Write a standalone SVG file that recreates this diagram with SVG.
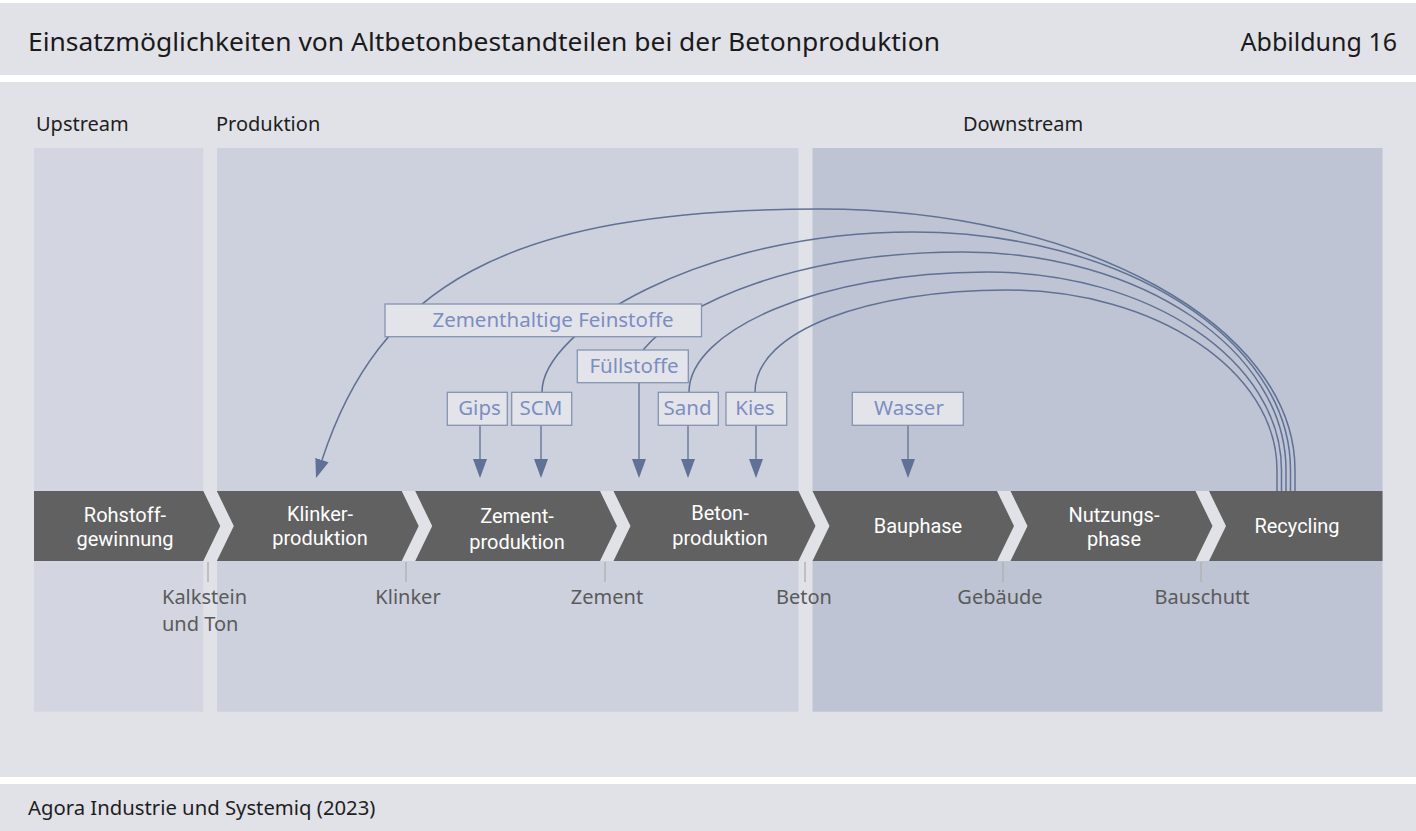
<svg xmlns="http://www.w3.org/2000/svg" width="1416" height="831" viewBox="0 0 1416 831">
<style>
text{font-family:"Noto Sans","Liberation Sans",sans-serif;}
.h{font-size:20px;fill:#1e1e1e;}
.seg{font-family:Roboto,"Noto Sans",sans-serif;font-size:20px;fill:#ffffff;text-anchor:middle;}
.out{font-size:20px;fill:#5a5a5a;text-anchor:middle;}
.box{fill:#e3e4ea;stroke:#8593b2;stroke-width:1.3;}
.bt{font-size:20.5px;fill:#7b8ec2;text-anchor:middle;}
.ln{fill:none;stroke:#5f7194;stroke-width:1.5;}
.arr{fill:none;stroke:#6b7c9c;stroke-width:1.5;marker-end:url(#ah);}
.sep{fill:#e1e2e7;}
.tick{stroke:#b3b3b3;stroke-width:1.5;}
</style>
<defs>
<marker id="ah" markerUnits="userSpaceOnUse" markerWidth="20" markerHeight="14" refX="0" refY="7" orient="auto">
<path d="M0,0 L19,7 L0,14 z" fill="#5f7194"/>
</marker>
</defs>
<rect x="0" y="0" width="1416" height="831" fill="#ffffff"/>
<rect x="0" y="3" width="1416" height="72" fill="#e1e2e7"/>
<rect x="0" y="82" width="1416" height="695" fill="#e1e2e7"/>
<rect x="0" y="784" width="1416" height="47" fill="#e1e2e7"/>
<text x="28" y="51" textLength="912" lengthAdjust="spacingAndGlyphs" style="font-size:25.5px;fill:#1a1a1a">Einsatzmöglichkeiten von Altbetonbestandteilen bei der Betonproduktion</text>
<text x="1397" y="51" style="font-size:25px;fill:#1a1a1a;text-anchor:end">Abbildung 16</text>
<text x="28" y="815" style="font-size:20.3px;fill:#1e1e1e">Agora Industrie und Systemiq (2023)</text>

<g id="panels">
<rect x="34" y="148" width="169.3" height="563.7" fill="#d3d6e1"/>
<rect x="217" y="148" width="581.5" height="563.7" fill="#cdd1dd"/>
<rect x="812.5" y="148" width="570" height="563.7" fill="#bec4d4"/>
<text class="h" x="36" y="131">Upstream</text>
<text class="h" x="216" y="131">Produktion</text>
<text class="h" x="963" y="131">Downstream</text>
</g>

<g id="band">
<rect x="34" y="491" width="1348.5" height="70" fill="#616161"/>
<polygon class="sep" points="203.3,491 216.8,491 233.8,526 216.8,561 203.3,561 220.3,526"/>
<polygon class="sep" points="401.7,491 415.2,491 432.2,526 415.2,561 401.7,561 418.7,526"/>
<polygon class="sep" points="600,491 613.5,491 630.5,526 613.5,561 600,561 617,526"/>
<polygon class="sep" points="798.5,491 812.5,491 829.5,526 812.5,561 798.5,561 815.5,526"/>
<polygon class="sep" points="997,491 1010.5,491 1027.5,526 1010.5,561 997,561 1014,526"/>
<polygon class="sep" points="1195.5,491 1209,491 1226,526 1209,561 1195.5,561 1212.5,526"/>
</g>

<g id="rohstoffgewinnung"><text class="seg" x="125" y="522">Rohstoff-</text><text class="seg" x="125" y="546">gewinnung</text></g>
<g id="klinkerproduktion"><text class="seg" x="320" y="521">Klinker-</text><text class="seg" x="320" y="545">produktion</text></g>
<g id="zementproduktion"><text class="seg" x="517" y="523">Zement-</text><text class="seg" x="517" y="549">produktion</text></g>
<g id="betonproduktion"><text class="seg" x="720" y="520">Beton-</text><text class="seg" x="720" y="545">produktion</text></g>
<g id="bauphase"><text class="seg" x="918" y="533">Bauphase</text></g>
<g id="nutzungsphase"><text class="seg" x="1114" y="522">Nutzungs-</text><text class="seg" x="1114" y="546">phase</text></g>
<g id="recycling"><text class="seg" x="1297" y="533">Recycling</text></g>

<g id="outputs">
<line class="tick" x1="208" y1="562" x2="208" y2="582"/>
<line class="tick" x1="406" y1="562" x2="406" y2="582"/>
<line class="tick" x1="605" y1="562" x2="605" y2="582"/>
<line class="tick" x1="805" y1="562" x2="805" y2="582"/>
<line class="tick" x1="1003" y1="562" x2="1003" y2="582"/>
<line class="tick" x1="1201" y1="562" x2="1201" y2="582"/>
<text class="out" x="162" y="604" style="text-anchor:start">Kalkstein</text>
<text class="out" x="162" y="631" style="text-anchor:start">und Ton</text>
<text class="out" x="408" y="604">Klinker</text>
<text class="out" x="607" y="604">Zement</text>
<text class="out" x="804" y="604">Beton</text>
<text class="out" x="1000" y="604">Gebäude</text>
<text class="out" x="1202" y="604">Bauschutt</text>
</g>

<g id="connectors">
<path class="ln" d="M1295,491 L1295,470 C1295,326 1082,209 820,209 C500,209 378,290 322,460" style="marker-end:url(#ah)"/>
<path class="ln" d="M1290.5,491 L1290.5,470 C1290.5,339 1121,232 913,232 C700,232 542,330 542,392"/>
<path class="ln" d="M1286,491 L1286,470 C1286,350 1141,252 963,252 C800,252 683,302 643,350"/>
<path class="ln" d="M1281.5,491 L1281.5,470 C1281.5,361 1150,272 987,272 C820,272 689,330 689,392"/>
<path class="ln" d="M1277,491 L1277,470 C1277,371 1156,290 1007,290 C870,290 755,330 755,392"/>
<line class="arr" x1="480" y1="425" x2="480" y2="459"/>
<line class="arr" x1="541" y1="425" x2="541" y2="459"/>
<line class="arr" x1="639" y1="382" x2="639" y2="459"/>
<line class="arr" x1="688" y1="425" x2="688" y2="459"/>
<line class="arr" x1="756" y1="425" x2="756" y2="459"/>
<line class="arr" x1="908" y1="425" x2="908" y2="459"/>
</g>

<g id="zementhaltige-feinstoffe"><rect class="box" x="385" y="304" width="316.5" height="32.7"/><text class="bt" x="553" y="327">Zementhaltige Feinstoffe</text></g>
<g id="fuellstoffe"><rect class="box" x="577.3" y="350" width="111" height="32.7"/><text class="bt" x="634" y="373">Füllstoffe</text></g>
<g id="gips"><rect class="box" x="447.3" y="392.3" width="60" height="33"/><text class="bt" x="479.5" y="415">Gips</text></g>
<g id="scm"><rect class="box" x="511.7" y="392.3" width="60" height="33"/><text class="bt" x="541" y="415">SCM</text></g>
<g id="sand"><rect class="box" x="658.3" y="392.3" width="60" height="33"/><text class="bt" x="687.5" y="415">Sand</text></g>
<g id="kies"><rect class="box" x="726" y="392.3" width="60.7" height="33"/><text class="bt" x="755" y="415">Kies</text></g>
<g id="wasser"><rect class="box" x="852.3" y="392.3" width="111" height="33"/><text class="bt" x="909" y="415">Wasser</text></g>
</svg>
